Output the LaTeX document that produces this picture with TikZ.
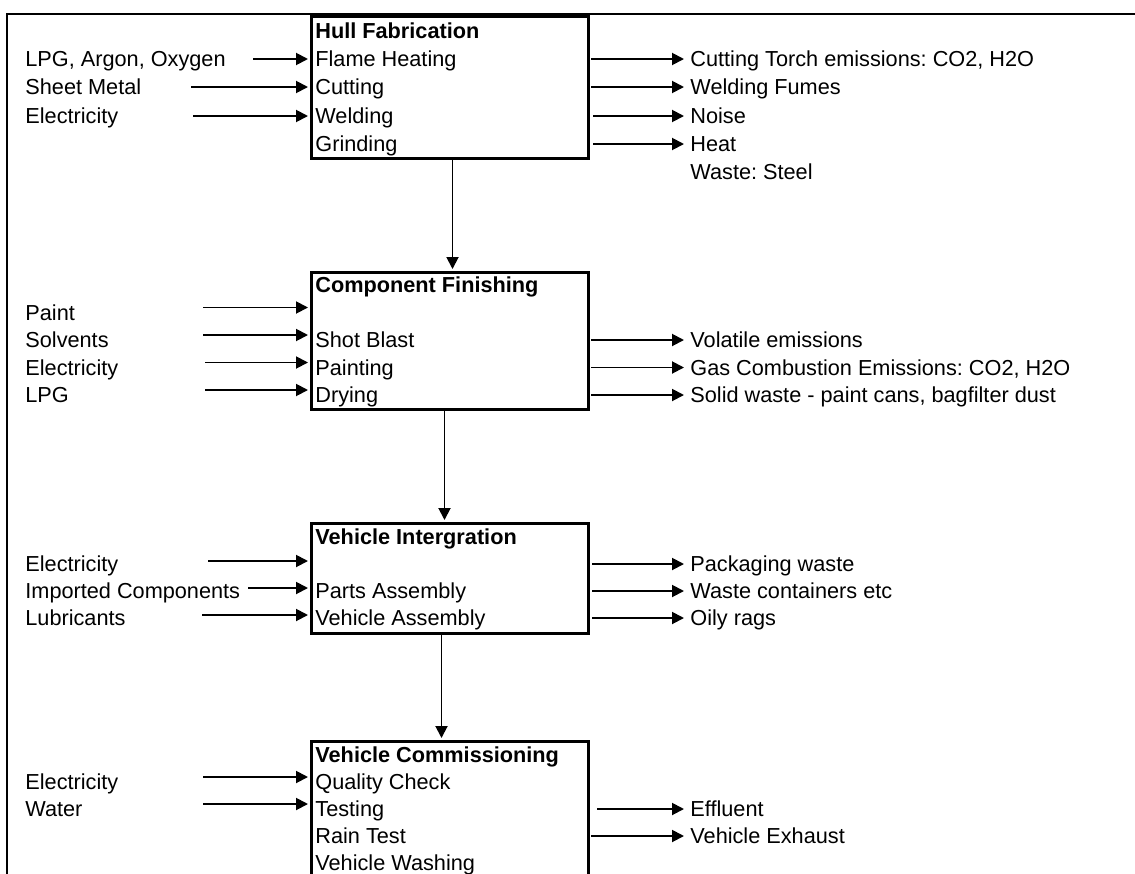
\documentclass[tikz,border=0pt]{standalone}
\usepackage{fontspec}
\setmainfont{Liberation Sans}
\usetikzlibrary{arrows.meta}
\frenchspacing
\tikzset{
	stage/.style={draw,line width=1.5pt,anchor=north west,minimum width=138.5pt,inner sep=0pt},
	txt/.style={anchor=west,inner sep=0pt,text height=7.8pt,text depth=0pt},
	flow/.style={line width=0.95pt,-{Triangle[length=6pt,width=6pt]},shorten >=1pt},
	emit/.style={flow,shorten >=3pt},
}
\begin{document}
\begin{tikzpicture}[x=0.5pt,y=-0.5pt,font=\fontsize{10.85}{13}\selectfont]
	\useasboundingbox (0,0) rectangle (1135,873);
	\draw[line width=1.2pt] (1140,14) -- (7,14) -- (7,880);

	% process boxes
	\node[stage,minimum height=71pt] (hull) at (310,15) {};
	\node[stage,minimum height=68.5pt] (fin) at (310,271) {};
	\node[stage,minimum height=55pt] (integ) at (310,522) {};
	\node[stage,minimum height=70pt] (comm) at (310,740) {};

	\draw[flow] ([xshift=1.25pt]hull.south) -- ([xshift=1.25pt]fin.north);
	\draw[flow] ([xshift=-2.75pt]fin.south) -- ([xshift=-2.75pt]integ.north);
	\draw[flow] ([xshift=-4.25pt]integ.south) -- ([xshift=-4.25pt]comm.north);

	% Hull Fabrication
	\foreach \t/\y [count=\i] in {\textbf{Hull Fabrication}/31,Flame Heating/59,Cutting/87,Welding/116,Grinding/144}
		{
		\node[txt] (hull-\i) at (315,\y) {\t};
		}
	\foreach \t/\y/\s [count=\i] in {{LPG, Argon, Oxygen}/59/253,Sheet Metal/87/191,Electricity/116/193}
		{
		\node[txt] (hin-\i) at (25,\y) {\t};
		\coordinate (hsrc-\i) at (\s,\y);
		\draw[flow] (hsrc-\i) -- (hsrc-\i -| hull.west);
		}
	\foreach \t/\y/\s [count=\i] in {{Cutting Torch emissions: CO2, H2O}/59/591,Welding Fumes/87/591,Noise/116/593,Heat/144/593}
		{
		\node[txt] (hout-\i) at (690,\y) {\t};
		\coordinate (hemi-\i) at (\s,\y);
		\draw[emit] (hemi-\i) -- (hout-\i.west);
		}
	\node[txt] (hout-5) at (690,172) {Waste: Steel};

	% Component Finishing
	\foreach \t/\y [count=\i] in {\textbf{Component Finishing}/285,Shot Blast/340,Painting/367.5,Drying/395}
		{
		\node[txt] (fin-\i) at (315,\y) {\t};
		}
	\foreach \t/\y/\s [count=\i] in {Paint/312.5/203,Solvents/340/203,Electricity/367.5/205,LPG/395/205}
		{
		\node[txt] (fin-\i) at (25,\y) {\t};
		\coordinate (fsrc-\i) at (\s,\y-5);
		\draw[flow] (fsrc-\i) -- (fsrc-\i -| fin.west);
		}
	\foreach \t/\y [count=\i] in {Volatile emissions/340,{Gas Combustion Emissions: CO2, H2O}/367.5,{Solid waste - paint cans, bagfilter dust}/395}
		{
		\node[txt] (fout-\i) at (690,\y) {\t};
		\coordinate (femi-\i) at (591,\y);
		\draw[emit] (femi-\i) -- (fout-\i.west);
		}

	% Vehicle Intergration
	\foreach \t/\y [count=\i] in {\textbf{Vehicle Intergration}/537,Parts Assembly/591,Vehicle Assembly/618}
		{
		\node[txt] (integ-\i) at (315,\y) {\t};
		}
	\foreach \t/\y/\s [count=\i] in {Electricity/564/208,Imported Components/591/248,Lubricants/618/202}
		{
		\node[txt] (iin-\i) at (25,\y) {\t};
		\coordinate (isrc-\i) at (\s,\y-3);
		\draw[flow] (isrc-\i) -- (isrc-\i -| integ.west);
		}
	\foreach \t/\y [count=\i] in {Packaging waste/564,Waste containers etc/591,Oily rags/618}
		{
		\node[txt] (iout-\i) at (690,\y) {\t};
		\coordinate (iemi-\i) at (592,\y);
		\draw[emit] (iemi-\i) -- (iout-\i.west);
		}

	% Vehicle Commissioning
	\foreach \t/\y [count=\i] in {\textbf{Vehicle Commissioning}/755,Quality Check/782,Testing/809,Rain Test/836,Vehicle Washing/863}
		{
		\node[txt] (comm-\i) at (315,\y) {\t};
		}
	\foreach \t/\y [count=\i] in {Electricity/782,Water/809}
		{
		\node[txt] (cin-\i) at (25,\y) {\t};
		\coordinate (csrc-\i) at (203,\y-5);
		\draw[flow] (csrc-\i) -- (csrc-\i -| comm.west);
		}
	\foreach \t/\y/\s [count=\i] in {Effluent/809/597,Vehicle Exhaust/836/591}
		{
		\node[txt] (cout-\i) at (690,\y) {\t};
		\coordinate (cemi-\i) at (\s,\y);
		\draw[emit] (cemi-\i) -- (cout-\i.west);
		}
\end{tikzpicture}
\end{document}
